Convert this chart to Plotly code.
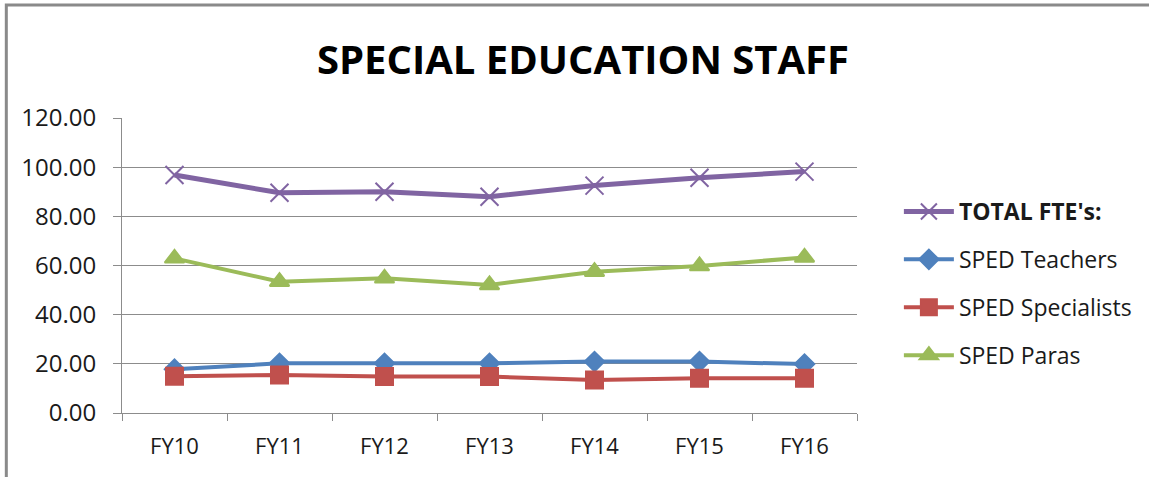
import plotly.graph_objects as go

# Fiscal years and full-time-equivalent staffing counts
years = ["FY10", "FY11", "FY12", "FY13", "FY14", "FY15", "FY16"]
total_fte = [96.8, 89.6, 90.0, 88.0, 92.5, 95.7, 98.2]
sped_teachers = [17.8, 20.2, 20.2, 20.2, 20.9, 20.9, 19.9]
sped_specialists = [15.0, 15.5, 14.8, 14.8, 13.4, 14.1, 14.1]
sped_paras = [62.9, 53.4, 54.8, 52.1, 57.5, 59.8, 63.3]

W, H = 1149, 477
ML, MR, MT, MB = 122, 290, 118, 64
FONT = "Open Sans"
GRID = "#8c8c8c"

fig = go.Figure()

series = [
    ("SPED Teachers", sped_teachers, "#4F81BD", "diamond", 15, 2, 4),
    ("SPED Specialists", sped_specialists, "#C0504D", "square", 17, 3, 4),
    ("SPED Paras", sped_paras, "#9BBB59", "triangle-up", 17, 4, 4),
    ("<b>TOTAL FTE's:</b>", total_fte, "#8064A2", "x-thin", 18, 1, 5),
]
for name, vals, color, sym, size, rank, lw in series:
    fig.add_trace(go.Scatter(
        x=years, y=vals, name=name, mode="lines+markers",
        line=dict(color=color, width=lw),
        marker=dict(symbol=sym, size=size, color=color,
                    line=dict(color=color, width=2)),
        legendrank=rank, legendgroup=name,
    ))

# Outer frame (top and left edges only)
pw = W - ML - MR
ph = H - MT - MB
x0 = (6 - ML) / pw
x1 = (W + 10 - ML) / pw
y_top = (H - MB - 5) / ph
y_bot = (H - MB - (H + 10)) / ph
fig.add_shape(type="path", xref="paper", yref="paper",
              path=f"M {x0} {y_bot} L {x0} {y_top} L {x1} {y_top}",
              line=dict(color="#8a8a8a", width=3), layer="above")

fig.update_layout(
    width=W, height=H,
    margin=dict(l=ML, r=MR, t=MT, b=MB),
    paper_bgcolor="white", plot_bgcolor="white",
    font=dict(family=FONT, color="#1a1a1a"),
    title=dict(text="<b>SPECIAL EDUCATION STAFF</b>", x=583 / W, xanchor="center",
               y=1 - 60 / H, yanchor="middle",
               font=dict(family=FONT, size=40, color="black")),
    showlegend=True,
    legend=dict(x=(901 - ML) / pw, xanchor="left", y=(H - MB - 190) / ph, yanchor="top",
                font=dict(family=FONT, size=23, color="#1a1a1a"),
                tracegroupgap=15, itemwidth=50, bgcolor="rgba(0,0,0,0)"),
    xaxis=dict(
        type="category", range=[-0.5, 6.5], showgrid=False,
        showline=True, linecolor=GRID, linewidth=1,
        ticks="outside", tickson="boundaries", ticklen=7, tickcolor=GRID,
        ticklabelstandoff=14,
        tickfont=dict(family=FONT, size=22, color="#1a1a1a"),
    ),
    yaxis=dict(
        range=[0, 120], dtick=20, tickformat=".2f",
        showgrid=True, gridcolor=GRID, gridwidth=1,
        showline=True, linecolor=GRID, linewidth=1,
        ticks="outside", ticklen=8, tickcolor=GRID,
        ticklabelstandoff=12,
        zeroline=False,
        tickfont=dict(family=FONT, size=24, color="#1a1a1a"),
    ),
)

fig.write_html("out.html")
